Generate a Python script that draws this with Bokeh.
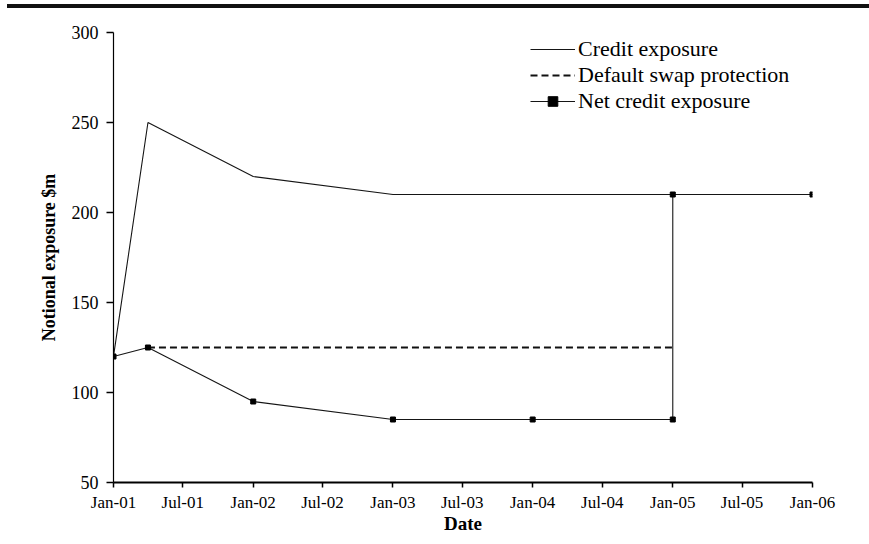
from datetime import datetime
from bokeh.plotting import figure
from bokeh.models import (Range1d, FixedTicker, DatetimeTickFormatter, Legend,
                          LegendItem, Div)
from bokeh.layouts import column
from bokeh.embed import file_html
from bokeh.resources import INLINE

# ---- data ----
credit_dates = ["2001-01-01", "2001-04-01", "2002-01-01", "2003-01-01",
                "2004-01-01", "2005-01-01", "2006-01-01"]
credit_exposure = [120, 250, 220, 210, 210, 210, 210]

protection_dates = ["2001-04-01", "2005-01-01"]
swap_protection = [125, 125]

net_dates = ["2001-01-01", "2001-04-01", "2002-01-01", "2003-01-01",
             "2004-01-01", "2005-01-01", "2005-01-01", "2006-01-01"]
net_exposure = [120, 125, 95, 85, 85, 85, 210, 210]

x_tick_dates = ["2001-01-01", "2001-07-01", "2002-01-01", "2002-07-01",
                "2003-01-01", "2003-07-01", "2004-01-01", "2004-07-01",
                "2005-01-01", "2005-07-01", "2006-01-01"]
y_ticks = [50, 100, 150, 200, 250, 300]


def to_dt(lst):
    return [datetime.strptime(s, "%Y-%m-%d") for s in lst]


def to_ms(lst):
    return [(d - datetime(1970, 1, 1)).total_seconds() * 1000.0 for d in to_dt(lst)]


FONT = "Liberation Serif"

p = figure(width=853, height=528, x_axis_type="datetime",
           output_backend="svg", toolbar_location=None,
           x_range=Range1d(to_dt(["2001-01-01"])[0], to_dt(["2006-01-01"])[0]),
           y_range=Range1d(50, 300),
           min_border_left=113, min_border_right=41,
           min_border_top=24, min_border_bottom=53)
p.outline_line_color = None
p.grid.visible = False
p.background_fill_color = "white"
p.border_fill_color = "white"

r_credit = p.line(to_dt(credit_dates), credit_exposure, line_color="#151515", line_width=1.1)
r_prot = p.line(to_dt(protection_dates), swap_protection, line_color="#111111",
                line_width=2, line_dash="7 4")
r_net = p.line(to_dt(net_dates), net_exposure, line_color="#151515", line_width=1.1)
r_net_m = p.scatter(to_dt(net_dates), net_exposure, marker="square", size=5,
                    fill_color="black", line_color="black")

# axes
xa = p.xaxis[0]
xa.ticker = FixedTicker(ticks=to_ms(x_tick_dates))
xa.formatter = DatetimeTickFormatter(
    milliseconds="%b-%y", seconds="%b-%y", minsec="%b-%y", minutes="%b-%y",
    hourmin="%b-%y", hours="%b-%y", days="%b-%y", months="%b-%y", years="%b-%y")
xa.minor_tick_line_color = None
xa.major_tick_in = 0
xa.major_tick_out = 5
xa.axis_line_width = 2
xa.axis_line_color = "black"
xa.major_tick_line_color = "black"
xa.major_tick_line_width = 1.5
xa.major_label_text_font = FONT
xa.major_label_text_font_size = "17px"
xa.major_label_text_color = "black"
xa.major_label_standoff = 5
xa.axis_label = "Date"
xa.axis_label_text_font = FONT
xa.axis_label_text_font_style = "bold"
xa.axis_label_text_font_size = "19px"
xa.axis_label_text_color = "black"
xa.axis_label_standoff = -2

ya = p.yaxis[0]
ya.ticker = FixedTicker(ticks=y_ticks)
ya.minor_tick_line_color = None
ya.major_tick_in = 0
ya.major_tick_out = 7
ya.axis_line_color = "black"
ya.axis_line_width = 1.2
ya.major_tick_line_color = "black"
ya.major_tick_line_width = 1.5
ya.major_label_text_font = FONT
ya.major_label_text_font_size = "18px"
ya.major_label_text_color = "black"
ya.major_label_standoff = 8
ya.axis_label = "Notional exposure $m"
ya.axis_label_text_font = FONT
ya.axis_label_text_font_style = "bold"
ya.axis_label_text_font_size = "18px"
ya.axis_label_text_color = "black"
ya.axis_label_standoff = 10

legend = Legend(items=[
    LegendItem(label="Credit exposure", renderers=[r_credit]),
    LegendItem(label="Default swap protection", renderers=[r_prot]),
    LegendItem(label="Net credit exposure", renderers=[r_net, r_net_m]),
], location=(417, 368))
legend.border_line_color = None
legend.background_fill_alpha = 0
legend.padding = 0
legend.margin = 0
legend.spacing = 0
legend.glyph_width = 45
legend.glyph_height = 24
legend.label_height = 24
legend.label_standoff = 3
legend.label_text_font = FONT
legend.label_text_font_size = "22px"
legend.label_text_color = "black"
legend.label_text_baseline = "middle"
p.add_layout(legend, "center")

bar = Div(text="", width=862, height=4, margin=(4, 0, 0, 7),
          styles={"background-color": "#111111"})

layout = column(bar, p, spacing=0)

open("out.html", "w").write(file_html(layout, INLINE))
